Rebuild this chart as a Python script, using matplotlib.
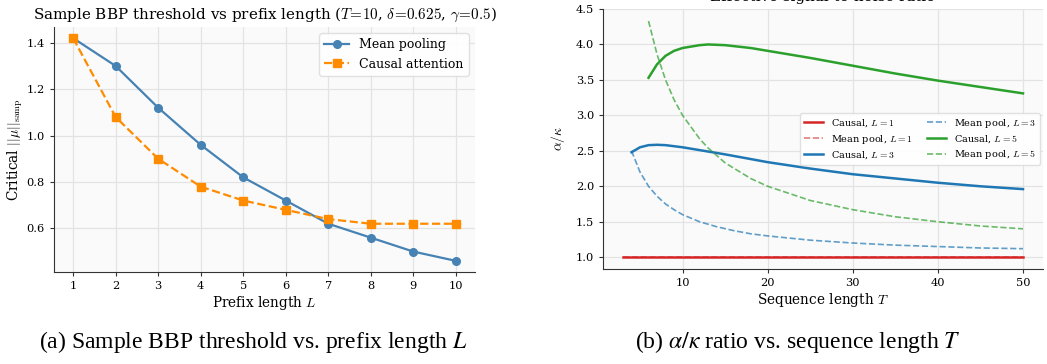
import matplotlib
matplotlib.use("Agg")
import matplotlib.pyplot as plt

plt.rcParams['font.family'] = 'DejaVu Serif'
plt.rcParams['mathtext.fontset'] = 'cm'

# left panel data
prefix_L = [1, 2, 3, 4, 5, 6, 7, 8, 9, 10]
mean_pool_thr = [1.42, 1.30, 1.12, 0.96, 0.82, 0.72, 0.62, 0.56, 0.50, 0.46]
causal_thr = [1.42, 1.08, 0.90, 0.78, 0.72, 0.68, 0.64, 0.62, 0.62, 0.62]

# right panel data
T_l1 = [3, 10, 20, 30, 40, 50]
causal_l1 = [1.0, 1.0, 1.0, 1.0, 1.0, 1.0]
meanpool_l1 = [1.0, 1.0, 1.0, 1.0, 1.0, 1.0]

T_l3 = [4, 5, 6, 7, 8, 10, 12, 15, 20, 25, 30, 35, 40, 45, 50]
causal_l3 = [2.48, 2.55, 2.58, 2.585, 2.58, 2.55, 2.51, 2.45, 2.34, 2.25, 2.17, 2.11, 2.05, 2.00, 1.96]
T_mp3 = [4, 5, 6, 7, 8, 9, 10, 12, 14, 16, 18, 20, 25, 30, 35, 40, 45, 50]
meanpool_l3 = [2.5, 2.2, 2.0, 1.86, 1.75, 1.67, 1.6, 1.5, 1.43, 1.375, 1.33, 1.3, 1.24, 1.2, 1.17, 1.15, 1.13, 1.12]

T_l5 = [6, 7, 8, 9, 10, 12, 13, 15, 18, 20, 25, 30, 35, 40, 45, 50]
causal_l5 = [3.53, 3.72, 3.84, 3.91, 3.95, 3.99, 4.0, 3.99, 3.95, 3.91, 3.81, 3.70, 3.59, 3.49, 3.40, 3.31]
meanpool_l5 = [4.33, 3.86, 3.5, 3.22, 3.0, 2.67, 2.54, 2.33, 2.11, 2.0, 1.8, 1.67, 1.57, 1.5, 1.44, 1.4]

W, H = 1047, 364
fig = plt.figure(figsize=(W / 100, H / 100), dpi=100)


def px_axes(x0, x1, y_top, y_bot):
    return fig.add_axes([x0 / W, 1 - y_bot / H, (x1 - x0) / W, (y_bot - y_top) / H])


def style(ax):
    ax.set_facecolor('#fafafa')
    ax.grid(True, color='#e3e3e3', linewidth=0.9)
    ax.set_axisbelow(True)
    for s in ['top', 'right']:
        ax.spines[s].set_visible(False)
    for s in ['left', 'bottom']:
        ax.spines[s].set_color('#333333')
    ax.tick_params(labelsize=8.2, length=3, color='#333333')


ax1 = px_axes(54, 475, 27, 272)
style(ax1)
ax1.plot(prefix_L, mean_pool_thr, '-o', color='#4682b4', lw=1.6, ms=5.5, label='Mean pooling')
ax1.plot(prefix_L, causal_thr, '--s', color='#ff8c00', lw=1.6, ms=5.5, label='Causal attention')
ax1.set_xticks(prefix_L)
ax1.set_yticks([0.6, 0.8, 1.0, 1.2, 1.4])
ax1.set_xlabel('Prefix length $L$', fontsize=9.8, labelpad=2)
ax1.set_ylabel(r'Critical $||\mu||_{\mathrm{samp}}$', fontsize=9.8, labelpad=1)
ax1.set_title(r'Sample BBP threshold vs prefix length ($T\!=\!10$, $\delta\!=\!0.625$, $\gamma\!=\!0.5$)',
              fontsize=10.9, pad=6)
ax1.legend(loc='upper right', fontsize=9, framealpha=0.9, edgecolor='#dddddd')

ax2 = px_axes(603, 1043, 9, 269)
style(ax2)
ax2.plot(T_l1, causal_l1, '-', color='#d62728', lw=1.8, label='Causal, $L=1$')
ax2.plot(T_l1, meanpool_l1, '--', color='#d62728', lw=1.2, alpha=0.6, label='Mean pool, $L=1$')
ax2.plot(T_l3, causal_l3, '-', color='#1f77b4', lw=1.8, label='Causal, $L=3$')
ax2.plot(T_mp3, meanpool_l3, '--', color='#1f77b4', lw=1.2, alpha=0.7, label='Mean pool, $L=3$')
ax2.plot(T_l5, causal_l5, '-', color='#2ca02c', lw=1.8, label='Causal, $L=5$')
ax2.plot(T_l5, meanpool_l5, '--', color='#2ca02c', lw=1.2, alpha=0.7, label='Mean pool, $L=5$')
ax2.set_xticks([10, 20, 30, 40, 50])
ax2.set_yticks([1.0, 1.5, 2.0, 2.5, 3.0, 3.5, 4.0, 4.5])
ax2.set_xlabel('Sequence length $T$', fontsize=9.8, labelpad=2)
ax2.set_ylabel(r'$\alpha/\kappa$', fontsize=9.8, labelpad=6)
ax2.set_title('Effective signal-to-noise ratio', fontsize=10.9, pad=6)
ax2.legend(loc='center right', ncol=2, fontsize=7, framealpha=0.9, edgecolor='#dddddd',
           columnspacing=1.4, handlelength=2.0, labelspacing=0.35, borderaxespad=0.3)

fig.text(253 / W, 1 - 342 / H, '(a) Sample BBP threshold vs. prefix length $L$',
         fontsize=17, family='Liberation Serif', math_fontfamily='stix', ha='center', va='center')
fig.text(798 / W, 1 - 342 / H, r'(b) $\alpha/\kappa$ ratio vs. sequence length $T$',
         fontsize=17, family='Liberation Serif', math_fontfamily='stix', ha='center', va='center')

fig.savefig('out.png', dpi=100)
